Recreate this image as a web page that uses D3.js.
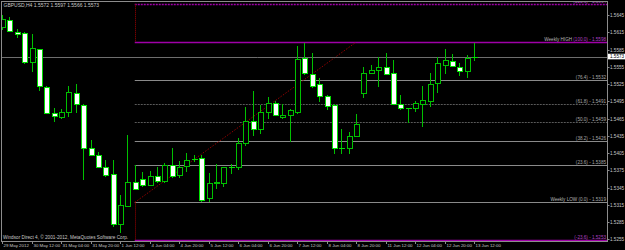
<!DOCTYPE html>
<html><head><meta charset="utf-8">
<script src="https://cdn.jsdelivr.net/npm/d3@7"></script>
<style>
html,body{margin:0;padding:0;background:#000;overflow:hidden;}
svg{display:block;}
text{font-family:"Liberation Sans",Arial,sans-serif;}
</style></head>
<body>
<svg id="chart" width="625" height="250"></svg>
<script>
// ---- data ----
const symbolTitle = "GBPUSD,H4  1.5572 1.5597 1.5566 1.5573";
const copyright = "Windsor Direct 4, \u00a9 2001-2012, MetaQuotes Software Corp.";
const opens  = [1.5624,1.5636,1.5616,1.5614,1.5563,1.5586,1.5520,1.5475,1.5468,1.5476,1.5510,1.5488,1.5414,1.5401,1.5381,1.5368,1.5281,1.5313,1.5355,1.5359,1.5350,1.5365,1.5356,1.5384,1.5366,1.5382,1.5393,1.5396,1.5326,1.5352,1.5353,1.5381,1.5380,1.5423,1.5460,1.5446,1.5476,1.5493,1.5468,1.5471,1.5477,1.5570,1.5543,1.5525,1.5504,1.5488,1.5413,1.5413,1.5435,1.5509,1.5545,1.5550,1.5554,1.5545,1.5491,1.5483,1.5484,1.5491,1.5496,1.5527,1.5559,1.5565,1.5555,1.5548,1.5572];
const highs  = [1.5645,1.5641,1.5621,1.5615,1.5612,1.5587,1.5521,1.5483,1.5481,1.5521,1.5525,1.5490,1.5427,1.5407,1.5393,1.5393,1.5332,1.5436,1.5384,1.5372,1.5373,1.5381,1.5387,1.5413,1.5391,1.5405,1.5401,1.5401,1.5371,1.5386,1.5381,1.5386,1.5432,1.5485,1.5513,1.5488,1.5502,1.5495,1.5491,1.5481,1.5591,1.5597,1.5579,1.5535,1.5506,1.5490,1.5446,1.5442,1.5473,1.5555,1.5558,1.5573,1.5579,1.5567,1.5506,1.5484,1.5495,1.5521,1.5545,1.5572,1.5587,1.5578,1.5561,1.5575,1.5597];
const lows   = [1.5619,1.5616,1.5605,1.5560,1.5546,1.5513,1.5473,1.5459,1.5464,1.5468,1.5474,1.5358,1.5400,1.5379,1.5363,1.5276,1.5265,1.5311,1.5340,1.5346,1.5347,1.5353,1.5353,1.5362,1.5362,1.5372,1.5389,1.5320,1.5320,1.5342,1.5346,1.5369,1.5376,1.5417,1.5434,1.5439,1.5465,1.5469,1.5465,1.5424,1.5473,1.5541,1.5518,1.5494,1.5480,1.5403,1.5403,1.5403,1.5434,1.5500,1.5542,1.5520,1.5541,1.5488,1.5480,1.5458,1.5477,1.5451,1.5485,1.5509,1.5543,1.5555,1.5539,1.5536,1.5566];
const closes = [1.5638,1.5617,1.5612,1.5563,1.5588,1.5521,1.5475,1.5469,1.5477,1.5511,1.5491,1.5413,1.5401,1.5381,1.5366,1.5281,1.5314,1.5355,1.5343,1.5350,1.5365,1.5356,1.5385,1.5365,1.5381,1.5393,1.5394,1.5324,1.5352,1.5355,1.5380,1.5381,1.5422,1.5461,1.5446,1.5476,1.5493,1.5471,1.5471,1.5480,1.5568,1.5544,1.5521,1.5504,1.5487,1.5413,1.5413,1.5434,1.5456,1.5545,1.5549,1.5554,1.5542,1.5491,1.5483,1.5483,1.5493,1.5497,1.5526,1.5561,1.5567,1.5557,1.5548,1.5570,1.5573];
const timeLabels = ["29 May 2012","30 May 12:00","31 May 04:00","31 May 20:00","1 Jun 12:00","4 Jun 04:00","4 Jun 20:00","5 Jun 12:00","6 Jun 04:00","6 Jun 20:00","7 Jun 12:00","8 Jun 04:00","8 Jun 20:00","11 Jun 12:00","12 Jun 04:00","12 Jun 20:00","13 Jun 12:00"];
const timeLabelBars = [0,4,8,12,16,20,24,28,32,36,40,44,48,52,56,60,64];
const priceTicks = [1.5645,1.5615,1.5585,1.5555,1.5525,1.5495,1.5465,1.5435,1.5405,1.5375,1.5345,1.5315,1.5285,1.5255];
const bidPrice = 1.5573;
const fibLevels = [123.6,100.0,76.4,61.8,50.0,38.2,23.6,0.0,-23.6];
const fibPrices = [1.5664,1.5598,1.5532,1.5491,1.5459,1.5426,1.5385,1.5319,1.5253];
const fibNames  = ["","Weekly HIGH ","","","","","","Weekly LOW ",""];
const fibAnchorBars = [18,48];
const fibAnchorPrices = [1.5319,1.5598];

// ---- layout ----
const W = 625, H = 250;
const frameL = 1.5, frameT = 1.5, frameR = 607.5, frameB = 241.5;
const svg = d3.select("#chart");
svg.append("rect").attr("width",W).attr("height",H).attr("fill","#000");

const x = d3.scaleLinear().domain([0,64]).range([2,474]);
const y = d3.scaleLinear().domain([1.5255,1.5645]).range([239.2,15.2]);

const GRAY = "#8a8a8a", MAG = "#a000a8", TXT = "#c8c8c8", GREEN = "#00c000";
const snap = v => Math.round(v) + 0.5;

// plot clip
svg.append("clipPath").attr("id","plot").append("rect")
  .attr("x",frameL).attr("y",frameT).attr("width",frameR-frameL).attr("height",frameB-frameT);
const plot = svg.append("g").attr("clip-path","url(#plot)");

// fibo levels
const fx0 = x(fibAnchorBars[0]);
const isMag = l => (l === 123.6 || l === 100.0 || l === -23.6);
const isDot = l => (l === 61.8 || l === 50.0 || l === 123.6);
fibLevels.forEach((l,k) => {
  const yy = snap(y(fibPrices[k]));
  plot.append("line").attr("x1",fx0).attr("x2",frameR).attr("y1",yy).attr("y2",yy)
    .attr("stroke", isMag(l) ? MAG : (isDot(l) ? "#5a5a5a" : GRAY))
    .attr("stroke-width", isMag(l) ? 1.3 : 1)
    .attr("stroke-dasharray", isDot(l) ? "2,1" : null);
  const t = plot.append("text").attr("x",frameR-1.5).attr("y",yy-1.2)
    .attr("text-anchor","end").attr("font-size",4.6);
  if (fibNames[k]) t.append("tspan").attr("fill","#b8b8b8").text(fibNames[k]);
  t.append("tspan").attr("fill", isMag(l) ? "#b040c0" : "#a8a8a8")
    .text("(" + l.toFixed(1) + ") - " + fibPrices[k].toFixed(4));
});
// fibo verticals and trend line (dotted red)
const kTop = fibLevels.indexOf(123.6), kHi = fibLevels.indexOf(100.0), kLo = fibLevels.indexOf(0.0), kBot = fibLevels.indexOf(-23.6);
[[kTop,kHi],[kLo,kBot]].forEach(([a,b]) => {
  plot.append("line").attr("x1",snap(fx0)).attr("x2",snap(fx0))
    .attr("y1",y(fibPrices[a])).attr("y2",y(fibPrices[b]))
    .attr("stroke","#a00000").attr("stroke-dasharray","1,1");
});
plot.append("line").attr("x1",x(fibAnchorBars[0])).attr("y1",y(fibAnchorPrices[0]))
  .attr("x2",x(fibAnchorBars[1])).attr("y2",y(fibAnchorPrices[1]))
  .attr("stroke","#900000").attr("stroke-dasharray","1.5,1.5");

// bid line
plot.append("line").attr("x1",frameL).attr("x2",frameR)
  .attr("y1",snap(y(bidPrice))).attr("y2",snap(y(bidPrice)))
  .attr("stroke","#6e6e6e");

// candles
const bars = opens.map((o,i) => ({i, o, h:highs[i], l:lows[i], c:closes[i]}));
const g = plot.append("g").attr("shape-rendering","crispEdges");
const bw = 5;
bars.forEach(d => {
  const cx = snap(x(d.i));
  g.append("line").attr("x1",cx).attr("x2",cx).attr("y1",y(d.h)).attr("y2",y(d.l))
    .attr("stroke",GREEN);
  const top = Math.round(y(Math.max(d.o,d.c))), bot = Math.round(y(Math.min(d.o,d.c)));
  if (Math.abs(d.c - d.o) < 0.00015) {
    g.append("line").attr("x1",cx-bw/2-0.5).attr("x2",cx+bw/2+0.5)
      .attr("y1",snap(y(d.c))).attr("y2",snap(y(d.c))).attr("stroke","#00e000");
  } else {
    const bull = d.c > d.o;
    g.append("rect").attr("x",cx-bw/2).attr("y",top+0.5)
      .attr("width",bw).attr("height",Math.max(1,bot-top))
      .attr("fill", bull ? "#000" : "#ffffff")
      .attr("stroke", bull ? GREEN : "#00e000");
  }
});

// frame
svg.append("rect").attr("x",frameL).attr("y",frameT).attr("width",frameR-frameL).attr("height",frameB-frameT)
  .attr("fill","none").attr("stroke","#8c8c8c").attr("shape-rendering","crispEdges");

// price axis
const ax = svg.append("g");
priceTicks.forEach(p => {
  const yy = snap(y(p));
  ax.append("line").attr("x1",frameR).attr("x2",frameR+2).attr("y1",yy).attr("y2",yy).attr("stroke","#8c8c8c");
  ax.append("text").attr("x",frameR+2.5).attr("y",yy+1.6).attr("font-size",4.6).attr("fill",TXT).text(p.toFixed(4));
});
const by = y(bidPrice);
ax.append("rect").attr("x",frameR+0.5).attr("y",by-2.8).attr("width",W-frameR).attr("height",5.6).attr("fill","#fff");
ax.append("text").attr("x",frameR+2.5).attr("y",by+1.6).attr("font-size",4.6).attr("fill","#000").text(bidPrice.toFixed(4));

// time axis
timeLabels.forEach((t,k) => {
  const xx = snap(x(timeLabelBars[k]));
  ax.append("line").attr("x1",xx).attr("x2",xx).attr("y1",frameB).attr("y2",frameB+2.5).attr("stroke","#8c8c8c");
  ax.append("text").attr("x",xx+1).attr("y",frameB+5.8).attr("font-size",4.4).attr("fill",TXT).text(t);
});

// texts
svg.append("text").attr("x",3.5).attr("y",7).attr("font-size",5).attr("fill",TXT).text(symbolTitle);
svg.append("text").attr("x",3).attr("y",238.5).attr("font-size",4.7).attr("fill",TXT).text(copyright);
</script>
</body></html>
